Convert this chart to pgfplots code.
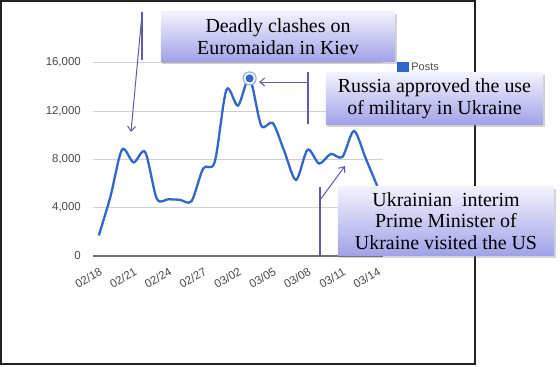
\documentclass[border=0pt]{standalone}
\usepackage{fontspec}
\setmainfont{Liberation Serif}
\newfontfamily\arialfont{Liberation Sans}
\usepackage{pgfplots}
\pgfplotsset{compat=1.18}
\usetikzlibrary{arrows.meta,shadows}
\definecolor{gblue}{HTML}{3366CC}
\definecolor{halo}{HTML}{8FB0E8}
\definecolor{gridgray}{HTML}{D0D0D0}
\definecolor{axisgray}{HTML}{707070}
\definecolor{labelgray}{HTML}{4A4A4A}
\definecolor{conn}{HTML}{5F5AAA}
\definecolor{boxtop}{HTML}{F2F2FE}
\definecolor{boxbot}{HTML}{A2A2E8}
\definecolor{framecol}{HTML}{222222}
\begin{document}
\begin{tikzpicture}
\path[use as bounding box] (0,0) rectangle (560bp,-367bp);
\fill[white] (0,0) rectangle (560bp,-367bp);
\begin{axis}[
  at={(93bp,-256bp)}, anchor=south west,
  scale only axis, width=290bp, height=193.3bp,
  xmin=-0.5, xmax=24.5, ymin=0, ymax=16000,
  axis x line*=bottom, axis y line*=left,
  x axis line style={draw=axisgray, line width=1.6bp, -},
  y axis line style={draw=none},
  tick style={draw=none},
  ytick={0,4000,8000,12000,16000},
  ymajorgrids, grid style={draw=gridgray, line width=0.8bp},
  xtick={0,3,...,24},
  xticklabels={02/18,02/21,02/24,02/27,03/02,03/05,03/08,03/11,03/14},
  scaled y ticks=false,
  /pgf/number format/assume math mode=true,
  /pgf/number format/1000 sep={,},
  tick label style={font=\arialfont\fontsize{11.5}{13}\selectfont, text=labelgray},
  yticklabel style={anchor=east, inner sep=0pt, xshift=-12bp},
  xticklabel style={xshift=0bp, yshift=-11bp, rotate=30, anchor=north east, inner sep=0pt},
  clip=false,
  legend style={at={(axis description cs:1.048,0.975)}, anchor=west, draw=none, fill=none,
    inner sep=0pt, font=\arialfont\fontsize{11}{12}\selectfont, text=labelgray},
  legend image code/.code={\fill[gblue] (0bp,-4.5bp) rectangle (10bp,4.5bp);},
]
\addplot[gblue, line width=2.3bp, smooth, tension=0.5] coordinates {
(0,1700) (1,4900) (2,8800) (3,7750) (4,8600) (5,4750) (6,4700) (7,4650) (8,4550)
(9,7250) (10,7800) (11,13750) (12,12450) (13,14700) (14,10800) (15,11000)
(16,8650) (17,6300) (18,8800) (19,7650) (20,8450) (21,8200) (22,10350) (23,8100) (24,5800)
};
\addlegendentry{Posts}
\addplot[forget plot, only marks, mark=*, mark size=6.5bp,
  mark options={draw=halo, fill=white, line width=1.2bp}] coordinates {(13,14700)};
\addplot[forget plot, only marks, mark=*, mark size=3.8bp,
  mark options={draw=gblue, fill=gblue}] coordinates {(13,14700)};
\end{axis}
\begin{scope}[x=1bp,y=-1bp]
\draw[framecol, line width=1.3bp] (1,1) rectangle (475,364);
\tikzset{box/.style={top color=boxtop, bottom color=boxbot, draw=none,
  drop shadow={shadow xshift=1.5bp, shadow yshift=-2.5bp, opacity=0.35},
  align=center, inner sep=0pt, font=\fontsize{20}{21.7}\selectfont},
  arr/.style={conn, line width=1bp, -{Straight Barb[length=5bp,width=8bp]}}}
% connector 1
\draw[conn, line width=1.6bp] (142,12) -- (142,60);
\draw[arr] (142,14) -- (131,132);
% connector 2
\draw[conn, line width=1.6bp] (308,72) -- (308,124);
\draw[arr] (308,82) -- (259,82);
% connector 3
\draw[conn, line width=1.6bp] (320,187) -- (320,256);
\draw[arr] (320,200) -- (345,166);
\node[box, minimum width=234bp, minimum height=49bp] at (278,36.5)
  {Deadly clashes on\\Euromaidan in Kiev};
\node[box, minimum width=217bp, minimum height=51bp] at (434.5,98.5)
  {Russia approved the use\\of military in Ukraine};
\node[box, minimum width=216bp, minimum height=68bp] at (446,221)
  {Ukrainian~ interim\\Prime Minister of\\Ukraine visited the US};
\end{scope}
\end{tikzpicture}
\end{document}
